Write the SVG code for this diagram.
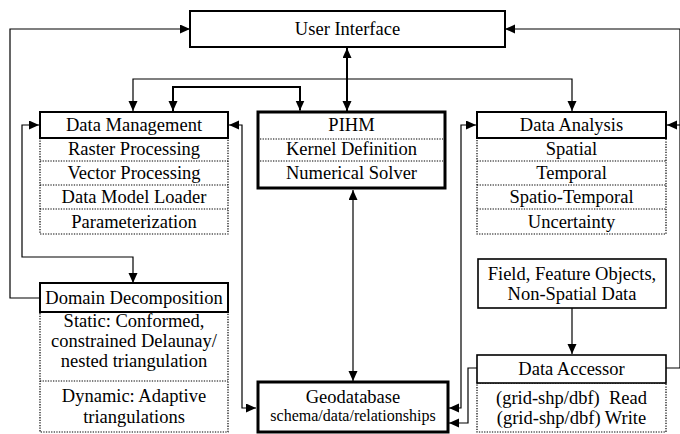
<svg xmlns="http://www.w3.org/2000/svg" width="680" height="434" viewBox="0 0 680 434" font-family="Liberation Serif, Times New Roman, DejaVu Serif, serif">
<defs>
<marker id="ah" markerUnits="userSpaceOnUse" markerWidth="11" markerHeight="10" refX="10" refY="4.5" orient="auto-start-reverse"><path d="M0,0 L10,4.5 L0,9 z" fill="#000"/></marker>
<style>
text{font-family:'Liberation Serif','Times New Roman','DejaVu Serif',serif;font-size:18.5px;fill:#000;text-anchor:middle}
.sm{font-size:16px}
.box{fill:#fff;stroke:#000;stroke-width:2}
.thick{fill:#fff;stroke:#000;stroke-width:3}
.dot{fill:none;stroke:#000;stroke-width:1.2;stroke-dasharray:1.3 1.3}
.c{fill:none;stroke:#000;stroke-width:1.2}
.c2{fill:none;stroke:#000;stroke-width:2}
</style>
</defs>
<rect width="680" height="434" fill="#fff"/>
<g id="connectors">
<path class="c" d="M40,298 H10 V29 H190" marker-end="url(#ah)"/>
<path class="c" d="M666,368 H680 V29 H505" marker-end="url(#ah)"/>
<path class="c" d="M680,125 H667" marker-end="url(#ah)"/>
<path class="c2" d="M347,48 V111" marker-start="url(#ah)" marker-end="url(#ah)"/>
<path class="c" d="M133,111 V79 H572 V111" marker-start="url(#ah)" marker-end="url(#ah)"/>
<path class="c2" d="M173,111 V87 H300 V110.5" marker-start="url(#ah)" marker-end="url(#ah)"/>
<path class="c" d="M39,125 H22 V257 H133 V283" marker-start="url(#ah)" marker-end="url(#ah)"/>
<path class="c" d="M229,125 H242 V408 H256" marker-start="url(#ah)" marker-end="url(#ah)"/>
<path class="c" d="M353,190 V381" marker-start="url(#ah)" marker-end="url(#ah)"/>
<path class="c" d="M476,125 H461 V408 H449" marker-start="url(#ah)" marker-end="url(#ah)"/>
<path class="c" d="M572,308 V354" marker-end="url(#ah)"/>
<path class="c" d="M477,368 H468 V423 H449" marker-end="url(#ah)"/>
</g>
<g id="user-interface">
<rect class="box" x="190" y="11" width="315" height="36"/>
<text x="347.5" y="35">User Interface</text>
</g>
<g id="data-management">
<rect class="dot" x="40" y="138" width="188" height="96"/>
<path class="dot" d="M40,161 H228 M40,185 H228 M40,209 H228"/>
<rect class="box" x="40" y="112" width="188" height="26"/>
<text x="134" y="131">Data Management</text>
<text x="134" y="155">Raster Processing</text>
<text x="134" y="179">Vector Processing</text>
<text x="134" y="203">Data Model Loader</text>
<text x="134" y="228">Parameterization</text>
</g>
<g id="pihm">
<rect class="thick" x="258" y="112" width="187" height="76"/>
<path class="dot" d="M260,139 H443 M260,161 H443"/>
<text x="351.5" y="131">PIHM</text>
<text x="351.5" y="155">Kernel Definition</text>
<text x="351.5" y="179">Numerical Solver</text>
</g>
<g id="data-analysis">
<rect class="dot" x="477" y="138" width="189" height="96"/>
<path class="dot" d="M477,161 H666 M477,185 H666 M477,209 H666"/>
<rect class="box" x="477" y="112" width="189" height="26"/>
<text x="571.5" y="131">Data Analysis</text>
<text x="571.5" y="155">Spatial</text>
<text x="571.5" y="179">Temporal</text>
<text x="571.5" y="203">Spatio-Temporal</text>
<text x="571.5" y="228">Uncertainty</text>
</g>
<g id="domain-decomposition">
<rect class="dot" x="40" y="312" width="188" height="120"/>
<path class="dot" d="M40,381 H228"/>
<rect class="box" x="40" y="283" width="188" height="29"/>
<text x="134" y="304">Domain Decomposition</text>
<text x="134" y="327">Static: Conformed,</text>
<text x="134" y="347">constrained Delaunay/</text>
<text x="134" y="367">nested triangulation</text>
<text x="134" y="402">Dynamic: Adaptive</text>
<text x="134" y="423">triangulations</text>
</g>
<g id="field-feature-objects">
<rect class="box" x="478" y="259" width="188" height="49" style="stroke-width:1.6"/>
<text x="572" y="280">Field, Feature Objects,</text>
<text x="572" y="300">Non-Spatial Data</text>
</g>
<g id="data-accessor">
<rect class="dot" x="477" y="383" width="189" height="49"/>
<rect class="box" x="477" y="355" width="189" height="28" style="stroke-width:1.6"/>
<text x="571.5" y="375">Data Accessor</text>
<text x="571.5" y="404" xml:space="preserve">(grid-shp/dbf)  Read</text>
<text x="571.5" y="424">(grid-shp/dbf) Write</text>
</g>
<g id="geodatabase">
<rect class="thick" x="258" y="382" width="190" height="50"/>
<text x="353" y="403">Geodatabase</text>
<text class="sm" x="353" y="421">schema/data/relationships</text>
</g>
</svg>
